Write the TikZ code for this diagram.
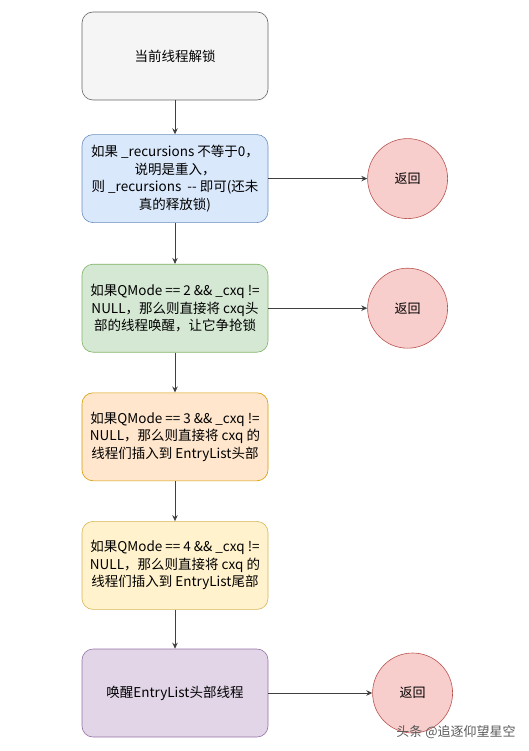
\documentclass[tikz,border=0pt]{standalone}
\usepackage{fontspec}
\setmainfont{Noto Sans CJK SC}
\usetikzlibrary{arrows.meta, positioning}
\definecolor{greyfill}{HTML}{F5F5F5}
\definecolor{greyline}{HTML}{666666}
\definecolor{bluefill}{HTML}{DAE8FC}
\definecolor{blueline}{HTML}{6C8EBF}
\definecolor{greenfill}{HTML}{D5E8D4}
\definecolor{greenline}{HTML}{82B366}
\definecolor{orangefill}{HTML}{FFE6CC}
\definecolor{orangeline}{HTML}{D79B00}
\definecolor{yellowfill}{HTML}{FFF2CC}
\definecolor{yellowline}{HTML}{D6B656}
\definecolor{purplefill}{HTML}{E1D5E7}
\definecolor{purpleline}{HTML}{9673A6}
\definecolor{redfill}{HTML}{F8CECC}
\definecolor{redline}{HTML}{B85450}
\tikzset{
    box/.style={rectangle, rounded corners=11pt, minimum width=186pt, minimum height=88pt, align=center, inner sep=2pt, line width=0.6pt, font=\fontsize{13.5}{17.5}\selectfont},
    greybox/.style={box, draw=greyline, fill=greyfill},
    bluebox/.style={box, draw=blueline, fill=bluefill},
    greenbox/.style={box, draw=greenline, fill=greenfill},
    orangebox/.style={box, draw=orangeline, fill=orangefill},
    yellowbox/.style={box, draw=yellowline, fill=yellowfill},
    purplebox/.style={box, draw=purpleline, fill=purplefill},
    retcircle/.style={circle, draw=redline, fill=redfill, minimum size=80pt, inner sep=0pt, line width=0.6pt, font=\fontsize{13}{16}\selectfont},
    arrow/.style={-{Stealth[length=6pt, width=5.5pt]}, line width=0.9pt, draw=black!75}
}
\begin{document}
\begin{tikzpicture}[x=1pt, y=-1pt]
        \useasboundingbox (0,0) rectangle (529,751);
        \node[greybox] (unlock) at (175,56) {当前线程解锁};
        \node[bluebox, below=34pt of unlock] (recur) {如果 \_recursions 不等于0，\\说明是重入，\\则 \_recursions\ \ -{}- 即可(还未\\真的释放锁)};
        \node[greenbox, below=41pt of recur] (qmodetwo) {如果QMode == 2 \&\& \_cxq !=\\NULL，那么则直接将 cxq头\\部的线程唤醒，让它争抢锁};
        \node[orangebox, below=40pt of qmodetwo] (qmodethree) {如果QMode == 3 \&\& \_cxq !=\\NULL，那么则直接将 cxq 的\\线程们插入到 EntryList头部};
        \node[yellowbox, below=40pt of qmodethree] (qmodefour) {如果QMode == 4 \&\& \_cxq !=\\NULL，那么则直接将 cxq 的\\线程们插入到 EntryList尾部};
        \node[purplebox, below=39pt of qmodefour] (wake) {唤醒EntryList头部线程};
        \node[retcircle, right=99pt of recur] (retone) {返回};
        \node[retcircle, right=99pt of qmodetwo] (rettwo) {返回};
        \node[retcircle, right=104pt of wake] (retthree) {返回};
        \node[text=black!65, font=\fontsize{13}{16}\selectfont] (mark) at (456,732) {头条 @追逐仰望星空};
        \draw[arrow] (unlock) -- (recur);
        \draw[arrow] (recur) -- (qmodetwo);
        \draw[arrow] (qmodetwo) -- (qmodethree);
        \draw[arrow] (qmodethree) -- (qmodefour);
        \draw[arrow] (qmodefour) -- (wake);
        \draw[arrow] (recur) -- (retone);
        \draw[arrow] (qmodetwo) -- (rettwo);
        \draw[arrow] (wake) -- (retthree);
    \end{tikzpicture}
\end{document}
